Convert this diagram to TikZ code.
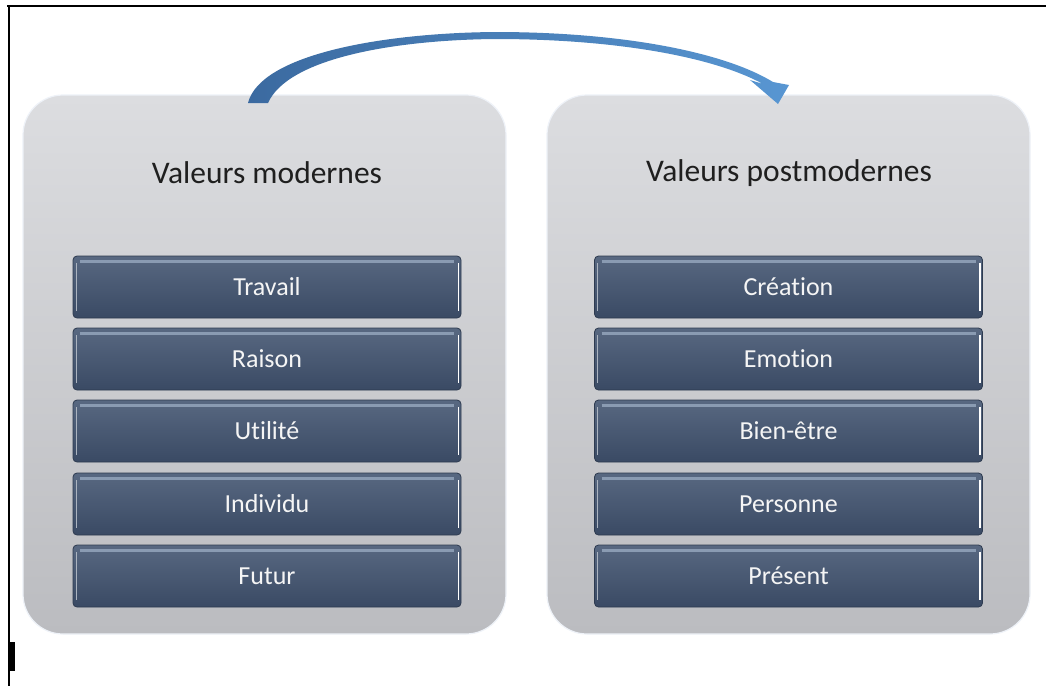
\documentclass[tikz,border=0pt]{standalone}
\usepackage{fontspec}
\setmainfont{Carlito}[Ligatures={NoCommon}]
\usetikzlibrary{calc}
\definecolor{panelTop}{HTML}{DCDDE0}
\definecolor{panelBot}{HTML}{BBBCC0}
\definecolor{panelEdge}{HTML}{EEF2F8}
\definecolor{boxTop}{HTML}{586881}
\definecolor{boxBot}{HTML}{3A4A64}
\definecolor{boxLine}{HTML}{2E3B50}
\definecolor{bevel}{HTML}{8A9BB2}
\definecolor{arrowA}{HTML}{3B6AA0}
\definecolor{arrowB}{HTML}{5896D2}
\begin{document}
\begin{tikzpicture}[x=1pt,y=-1pt,
  panel/.style={rounded corners=40pt, minimum width=483pt, minimum height=539pt,
    top color=panelTop, bottom color=panelBot, draw=panelEdge, line width=1.2pt, inner sep=0pt},
  item/.style={rounded corners=4pt, minimum width=388pt, minimum height=62pt,
    top color=boxTop, bottom color=boxBot, draw=boxLine, line width=0.8pt,
    text=white!92!gray, font=\fontsize{26}{29}\selectfont, inner sep=0pt,
    path picture={
      \draw[bevel, line width=3pt]
        ([xshift=7pt,yshift=-5.5pt]path picture bounding box.north west) --
        ([xshift=-7pt,yshift=-5.5pt]path picture bounding box.north east);
      \draw[boxTop!50!white, line width=1pt]
        ([xshift=3pt,yshift=-7pt]path picture bounding box.north west) --
        ([xshift=3pt,yshift=7pt]path picture bounding box.south west);
      \draw[white, line width=1.6pt]
        ([xshift=-2.5pt,yshift=-7pt]path picture bounding box.north east) --
        ([xshift=-2.5pt,yshift=7pt]path picture bounding box.south east);
    }},
  heading/.style={font=\fontsize{31.5}{34}\selectfont, text=black!88}]
\useasboundingbox (0,0) rectangle (1046,686);
\fill[white] (0,0) rectangle (1046,686);

% frame
\draw[black, line width=2pt] (7,5.5) -- (1046,5.5);
\draw[black, line width=2pt] (8.5,5) -- (8.5,686);
\fill[black] (9,642) rectangle (15,671);

% panels
\node[panel] (L) at (264.5,364.5) {};
\node[panel] (R) at (788.5,364.5) {};

\node[heading] (Lt) at (267,173) {Valeurs modernes};
\node[heading] (Rt) at (789,173) {Valeurs postmodernes};

% left items
\node[item] (l1) at (267,287) {Travail};
\node[item] (l2) at (267,359) {Raison};
\node[item] (l3) at (267,431) {Utilité};
\node[item] (l4) at (267,504) {Individu};
\node[item] (l5) at (267,576) {Futur};

% right items
\node[item] (r1) at (788.5,287) {Création};
\node[item] (r2) at (788.5,359) {Emotion};
\node[item] (r3) at (788.5,431) {Bien-être};
\node[item] (r4) at (788.5,504) {Personne};
\node[item] (r5) at (788.5,576) {Présent};

% curved arrow from left panel to right panel
\coordinate (aS) at (248,103);
\coordinate (aE) at (778,104);
\path[left color=arrowA, right color=arrowB]
  (aS) .. controls (260,55) and (380,33) .. (495,32)
       .. controls (622,32) and (724,52) .. (773,82)
  -- (789,85) -- (aE) -- (750,80) -- (763,84)
       .. controls (716,58) and (620,39) .. (495,39)
       .. controls (395,40) and (288,58) .. (268,103)
  -- cycle;
\end{tikzpicture}
\end{document}
